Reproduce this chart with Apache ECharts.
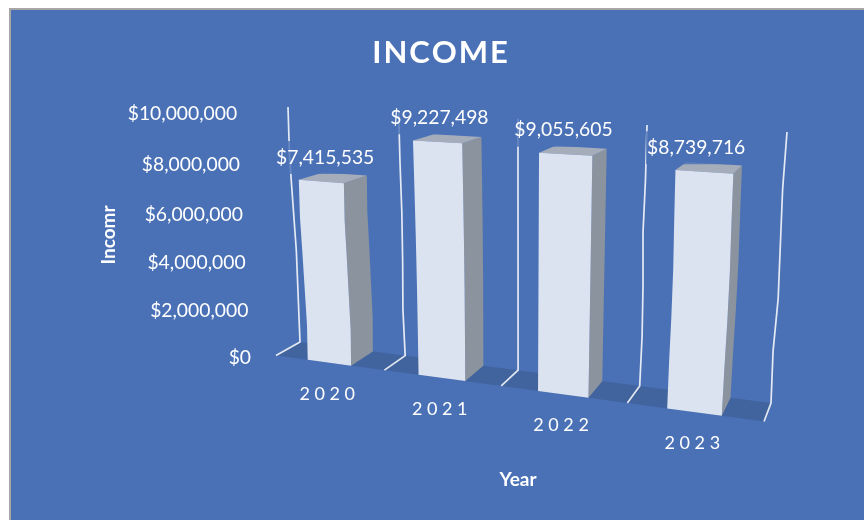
<!DOCTYPE html>
<html>
<head>
<meta charset="utf-8">
<title>Income</title>
<style>html,body{margin:0;padding:0;background:#fff}#chart{width:864px;height:520px}</style>
<script src="https://cdn.jsdelivr.net/npm/echarts@6/dist/echarts.min.js"></script>
</head>
<body>
<div id="chart"></div>
<script>
// Chart content
const chartTitle = 'INCOME';
const yAxisTitle = 'Incomr';
const xAxisTitle = 'Year';
const years = ['2020', '2021', '2022', '2023'];
const income = [7415535, 9227498, 9055605, 8739716];
const yTicks = [0, 2000000, 4000000, 6000000, 8000000, 10000000];
const yTickLabels = ['$0', '$2,000,000', '$4,000,000', '$6,000,000', '$8,000,000', '$10,000,000'];

// Perspective of the 3D box: where the back wall and the front floor edge land on screen
const wallCorners = { baseL: [300, 342], baseR: [771, 403], topR: [787, 132], topL: [288, 107] };
const floorFront = { left: [276, 355.5], right: [764, 420] };
const barHalfWidth = 0.2;                    // in category bands
const labelNudge = [4, 2, -2, -8];           // horizontal offset of value labels
// Hand-rolled edge irregularity of the rendered 3D shapes, px per height step (bottom to top)
const barWobble = [
  [0, 1, 0.5, 0, -0.7, 0],
  [0, 0.3, 0.5, 0.5, 0.3, 0],
  [0, 0, 0, 0, 0, 0],
  [0, 0.3, 1, 1.2, 0.5, 0]
];
const wallWobble = [
  [0, 0.5, 1, 0, -1, 0],
  [0, -1, 0, 0.5, 0, 0],
  [0, 0, 0, 0, 0, 0],
  [0, 1, 0.5, -1, 0, 0],
  [0, -1, 1, 0, -1, 0]
];

const colors = {
  panel: '#4a71b6', border: '#a6a6a6', floor: '#41649f', front: '#dce3f0',
  side: '#8a939e', top: '#a6adba', ink: '#ffffff', labelBack: 'rgba(74,113,182,0.8)'
};
const font = 'Lato, "Open Sans", sans-serif';

// Square-to-quad homography for the wall, extended with a depth column for the floor
function buildProjection() {
  const [x0, y0] = wallCorners.baseL, [x1, y1] = wallCorners.baseR;
  const [x2, y2] = wallCorners.topR, [x3, y3] = wallCorners.topL;
  const dx1 = x1 - x2, dx2 = x3 - x2, sx = x0 - x1 + x2 - x3;
  const dy1 = y1 - y2, dy2 = y3 - y2, sy = y0 - y1 + y2 - y3;
  const den = dx1 * dy2 - dx2 * dy1;
  const g = (sx * dy2 - dx2 * sy) / den, h = (dx1 * sy - sx * dy1) / den;
  const a = x1 - x0 + g * x1, b = x3 - x0 + h * x3, c = x0;
  const d = y1 - y0 + g * y1, e = y3 - y0 + h * y3, f = y0;
  const [fx0, fy0] = floorFront.left, [fx1] = floorFront.right;
  const w = (a - fx1 * g) / (fx1 - fx0);
  const zx = fx0 * w - c, zy = fy0 * w - f, zw = w - 1;
  return (u, v, z) => {
    const q = g * u + h * v + zw * z + 1;
    return [(a * u + b * v + zx * z + c) / q, (d * u + e * v + zy * z + f) / q];
  };
}
const project = buildProjection();

// Converts a pixel from the cartesian grid into wall-plane fractions
function toPlane(pt, sys) {
  return [(pt[0] - sys.x) / sys.width, 1 - (pt[1] - sys.y) / sys.height];
}

function verticalEdge(u, vTop, z, wobble, upward) {
  const pts = [];
  wobble.forEach((dx, k) => {
    const t = k / (wobble.length - 1);
    const p = project(u, vTop * t, z);
    pts.push([p[0] + dx, p[1]]);
  });
  return upward ? pts : pts.reverse();
}

function renderBar(params, api) {
  const i = api.value(0), value = api.value(1);
  const sys = params.coordSys;
  const pt = api.coord([i, value]);
  const band = api.size([1, 0])[0];
  const vTop = toPlane(pt, sys)[1];
  const uL = toPlane([pt[0] - band * barHalfWidth, pt[1]], sys)[0];
  const uR = toPlane([pt[0] + band * barHalfWidth, pt[1]], sys)[0];
  const uC = toPlane(pt, sys)[0];
  const wob = barWobble[i];
  const frontL = verticalEdge(uL, vTop, 1, wob, true);
  const frontR = verticalEdge(uR, vTop, 1, wob, false);
  const backR = verticalEdge(uR, vTop, 0, wob, true);
  const top = [project(uL, vTop, 1), project(uL, vTop, 0), project(uR, vTop, 0), project(uR, vTop, 1)];
  const anchor = project(uC, vTop, 1);
  return {
    type: 'group',
    children: [
      { type: 'polygon', shape: { points: frontR.concat(backR) }, style: { fill: colors.side } },
      { type: 'polygon', shape: { points: top }, style: { fill: colors.top } },
      { type: 'polygon', shape: { points: frontL.concat(frontR) }, style: { fill: colors.front } },
      {
        type: 'text', z2: 5,
        style: {
          x: anchor[0] + labelNudge[i], y: anchor[1] - 24,
          text: '$' + value.toLocaleString('en-US'),
          fill: colors.ink, font: '19.3px ' + font, align: 'center', verticalAlign: 'middle',
          backgroundColor: colors.labelBack, padding: [7, 1]
        }
      }
    ]
  };
}

// Shaded floor plus the wall uprights and floor ticks at each category boundary
function renderBox(params, api) {
  const sys = params.coordSys;
  const floor = [project(0, 0, 1), project(0, 0, 0), project(1, 0, 0), project(1, 0, 1)];
  const children = [{ type: 'polygon', shape: { points: floor }, style: { fill: colors.floor } }];
  const vMax = toPlane(api.coord([0, yTicks[yTicks.length - 1]]), sys)[1];
  for (let n = 0; n <= years.length; n++) {
    const u = n / years.length;
    const line = verticalEdge(u, vMax, 0, wallWobble[n], true);
    children.push({
      type: 'polyline', shape: { points: [project(u, 0, 1)].concat(line) },
      style: { stroke: colors.ink, lineWidth: 1.7, fill: null, opacity: 0.85 }
    });
  }
  return { type: 'group', children };
}

function renderYear(params, api) {
  const sys = params.coordSys;
  const u = toPlane(api.coord([api.value(0), 0]), sys)[0];
  const p = project(u, 0, 1);
  return {
    type: 'text',
    style: {
      x: p[0] - 2, y: p[1] + 31, text: years[params.dataIndex].split('').join(' '),
      fill: colors.ink, font: '18px ' + font, align: 'center', verticalAlign: 'middle'
    }
  };
}

function renderTick(params, api) {
  const sys = params.coordSys;
  const v = toPlane(api.coord([0, api.value(1)]), sys)[1];
  const p = project(0, v, 1);
  return {
    type: 'text',
    style: {
      x: p[0] - 25, y: p[1] + 2, text: yTickLabels[params.dataIndex],
      fill: colors.ink, font: '19.3px ' + font, align: 'right', verticalAlign: 'middle'
    }
  };
}

const chart = echarts.init(document.getElementById('chart'));
chart.setOption({
  animation: false,
  backgroundColor: '#ffffff',
  title: {
    text: chartTitle.split('').join('\u200a'), left: 435, top: 32, textAlign: 'center',
    textStyle: { color: colors.ink, fontFamily: font, fontWeight: 'bold', fontSize: 31 }
  },
  grid: { left: 280, right: 80, top: 100, bottom: 100 },
  xAxis: { type: 'category', data: years, show: false },
  yAxis: { type: 'value', min: 0, max: 10000000, interval: 2000000, show: false },
  graphic: [
    { type: 'rect', z: -10, shape: { x: 10, y: 9, width: 900, height: 600 },
      style: { fill: colors.panel, stroke: colors.border, lineWidth: 2 } },
    { type: 'text', x: 109, y: 235, rotation: Math.PI / 2, z: 10,
      style: { text: yAxisTitle, fill: colors.ink, font: 'bold 19px ' + font, align: 'center', verticalAlign: 'middle' } },
    { type: 'text', x: 518, y: 480, z: 10,
      style: { text: xAxisTitle, fill: colors.ink, font: 'bold 19px ' + font, align: 'center', verticalAlign: 'middle' } }
  ],
  series: [
    { type: 'custom', name: 'box', renderItem: renderBox, data: [[0, 0]], z: 1, silent: true },
    { type: 'custom', name: 'Income', renderItem: renderBar, z: 2, silent: true,
      data: income.map((v, i) => [i, v]), encode: { x: 0, y: 1 } },
    { type: 'custom', name: 'years', renderItem: renderYear, z: 3, silent: true, data: years.map((y, i) => [i, 0]) },
    { type: 'custom', name: 'ticks', renderItem: renderTick, z: 3, silent: true, data: yTicks.map(t => [0, t]) }
  ]
});
</script>
</body>
</html>
